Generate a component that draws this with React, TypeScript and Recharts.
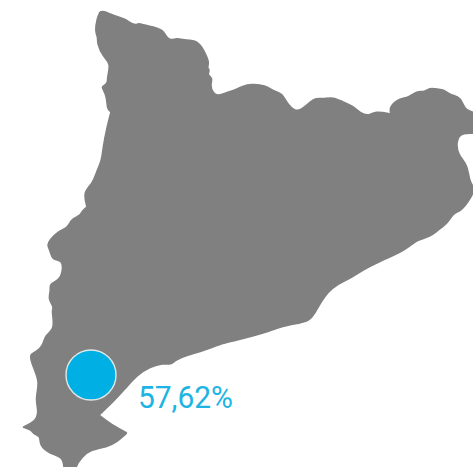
import React from 'react';
import { ScatterChart, Scatter, XAxis, YAxis, LabelList } from 'recharts';

const outlineX = [100,104,110,118,125,132,137,139,143,155,162,165,169,177,183,196,202,207,209,207,210,207,213,210,213,218,225,233,243,251,265,275,282,288,295,301,310,316,323,333,343,353,360,369,375,391,391,389,400,408,416,425,430,435,443,450,462,464,484,484,461,456,458,468,469,476,468,461,453,448,438,430,416,406,376,363,351,336,328,321,315,309,300,283,270,253,233,220,203,187,175,171,163,150,137,125,113,99,99,115,127,127,117,107,90,82,75,74,65,64,63,50,39,41,33,32,23,23,35,39,35,40,33,29,36,43,45,54,53,52,54,48,51,49,60,63,62,52,50,47,50,58,68,71,80,82,87,87,83,93,96,102,103,107,111,111,107,107,102,102,108,107,111,103,97,98,95,97,100];
const outlineY = [12,11,14,17,19,24,25,23,25,27,30,34,41,38,40,40,47,57,63,68,70,75,78,85,93,96,93,91,86,84,85,92,93,105,111,110,102,98,99,97,102,106,113,116,111,114,114,107,98,98,91,92,88,89,89,95,97,112,113,136,131,142,155,165,182,189,202,211,213,223,230,237,240,250,263,270,278,285,292,302,313,321,323,326,331,336,341,344,351,355,360,365,363,367,375,389,402,415,415,427,433,433,442,447,450,457,467,480,480,467,457,454,445,436,434,430,427,427,422,412,399,382,367,354,352,346,335,330,317,310,307,299,290,284,280,269,260,260,250,245,240,231,228,219,216,211,207,207,192,183,173,160,147,127,112,112,109,97,87,87,83,78,63,57,43,37,32,18,12];
const outline = outlineX.map((x, i) => ({ x, y: outlineY[i] }));

const regionX = [91];
const regionY = [375];
const regionLabels = ['57,62%'];
const region = regionX.map((x, i) => ({ x, y: regionY[i], label: regionLabels[i] }));

const Dot = (p: any) => <circle cx={p.cx} cy={p.cy} r={25} fill="#00b0e4" stroke="#dfe8e8" strokeWidth={1.4} />;

export default function App() {
  return (
    <div style={{ position: 'absolute', left: 0, top: 0, width: 473, height: 467, overflow: 'hidden', background: '#fff' }}>
      <ScatterChart width={473} height={467} margin={{ top: 0, right: 0, bottom: 0, left: 0 }}>
        <XAxis type="number" dataKey="x" domain={[0, 473]} hide allowDataOverflow />
        <YAxis type="number" dataKey="y" domain={[0, 467]} reversed hide allowDataOverflow />
        <Scatter data={outline} isAnimationActive={false} shape={() => null} fill="#808080" lineJointType="basis"
          line={{ fill: '#808080', stroke: '#808080', strokeWidth: 1.5 }} />
        <Scatter data={region} isAnimationActive={false} shape={Dot} fill="#00b0e4">
          <LabelList dataKey="label" content={(p: any) => (
            <text x={p.x + p.width / 2 + 47} y={p.y + p.height / 2 + 32.5} fill="#1db4e4"
              fontFamily="Roboto" fontWeight={400} fontSize={31} textLength={95} lengthAdjust="spacingAndGlyphs">{p.value}</text>
          )} />
        </Scatter>
      </ScatterChart>
    </div>
  );
}
